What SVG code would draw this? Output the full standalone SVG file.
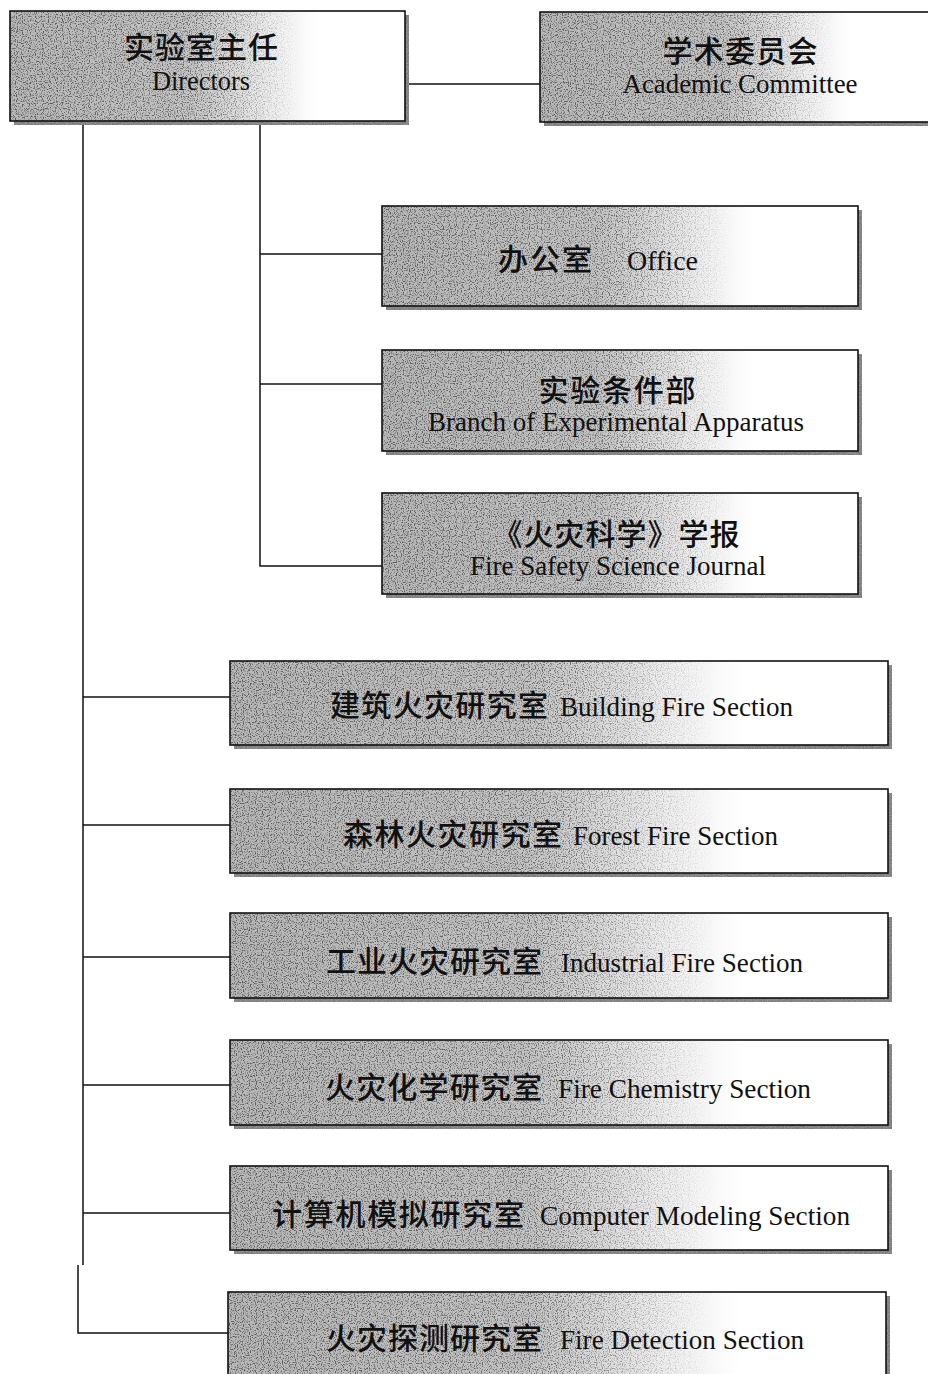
<svg xmlns="http://www.w3.org/2000/svg" width="928" height="1374" viewBox="0 0 928 1374">
<style>
.shadow{fill:#7a7a7a;}
.base{fill:url(#fillg);}
.grain{fill:url(#nmask);filter:url(#speck);}
.sgrain{fill:#fff;filter:url(#speck2);}
.frame{fill:none;stroke:#111;stroke-width:1.6;}
.cn{font-family:"Noto Sans CJK SC","Noto Sans",sans-serif;font-size:30px;font-weight:500;fill:#111;}
.en{font-family:"Liberation Serif","Times New Roman",serif;font-size:27px;fill:#111;}
.mid{text-anchor:middle;}
.conn path{fill:none;stroke:#111;stroke-width:1.5;}
</style>
<defs>
<linearGradient id="fillg" x1="0" y1="0" x2="1" y2="0">
<stop offset="0" stop-color="#b8b8b8"/>
<stop offset="0.45" stop-color="#c4c4c4"/>
<stop offset="0.66" stop-color="#ededed"/>
<stop offset="0.78" stop-color="#ffffff"/>
<stop offset="1" stop-color="#ffffff"/>
</linearGradient>
<linearGradient id="nmask" x1="0" y1="0" x2="1" y2="0">
<stop offset="0" stop-color="#fff" stop-opacity="1"/>
<stop offset="0.5" stop-color="#fff" stop-opacity="0.85"/>
<stop offset="0.74" stop-color="#fff" stop-opacity="0"/>
<stop offset="1" stop-color="#fff" stop-opacity="0"/>
</linearGradient>
<filter id="speck" x="0" y="0" width="1" height="1">
<feTurbulence type="fractalNoise" baseFrequency="0.85" numOctaves="1" seed="4" result="t"/>
<feColorMatrix in="t" type="matrix" values="0 0 0 0 0.1  0 0 0 0 0.1  0 0 0 0 0.1  5 0 0 0 -2.45" result="d"/>
<feComposite in="d" in2="SourceGraphic" operator="in"/>
</filter>
<filter id="speck2" x="0" y="0" width="1" height="1">
<feTurbulence type="fractalNoise" baseFrequency="0.9" numOctaves="1" seed="9" result="t"/>
<feColorMatrix in="t" type="matrix" values="0 0 0 0 0.3  0 0 0 0 0.3  0 0 0 0 0.3  4 0 0 0 -1.6" result="d"/>
<feComposite in="d" in2="SourceGraphic" operator="in"/>
</filter>
</defs>
<rect width="928" height="1374" fill="#ffffff"/>

<g class="conn" id="connectors">
<path d="M405 84 H540"/>
<path d="M260 121 V566 H382"/>
<path d="M260 254 H382"/>
<path d="M260 384 H382"/>
<path d="M83 121 V1265"/>
<path d="M83 697 H230"/>
<path d="M83 825 H230"/>
<path d="M83 957 H230"/>
<path d="M83 1085 H230"/>
<path d="M83 1213 H230"/>
<path d="M78 1265 V1333 H228"/>
</g>

<g id="n-directors">
<rect class="shadow" x="14" y="15" width="395" height="110"/>
<rect class="sgrain" x="14" y="15" width="395" height="110"/>
<rect class="base" x="10" y="11" width="395" height="110"/>
<rect class="grain" x="10" y="11" width="395" height="110"/>
<rect class="frame" x="10" y="11" width="395" height="110"/>
<text class="cn mid" x="201" y="58" textLength="154">实验室主任</text>
<text class="en mid" x="201" y="90" textLength="98" lengthAdjust="spacingAndGlyphs">Directors</text>
</g>

<g id="n-academic">
<rect class="shadow" x="544" y="16" width="400" height="110"/>
<rect class="sgrain" x="544" y="16" width="400" height="110"/>
<rect class="base" x="540" y="12" width="400" height="110"/>
<rect class="grain" x="540" y="12" width="400" height="110"/>
<rect class="frame" x="540" y="12" width="400" height="110"/>
<text class="cn mid" x="740" y="62" textLength="155">学术委员会</text>
<text class="en mid" x="740" y="93" textLength="235" lengthAdjust="spacingAndGlyphs">Academic Committee</text>
</g>

<g id="n-office">
<rect class="shadow" x="386" y="210" width="476" height="100"/>
<rect class="sgrain" x="386" y="210" width="476" height="100"/>
<rect class="base" x="382" y="206" width="476" height="100"/>
<rect class="grain" x="382" y="206" width="476" height="100"/>
<rect class="frame" x="382" y="206" width="476" height="100"/>
<text class="cn" x="498" y="270" textLength="94">办公室</text>
<text class="en" x="627" y="270" textLength="71" lengthAdjust="spacingAndGlyphs">Office</text>
</g>

<g id="n-apparatus">
<rect class="shadow" x="386" y="354" width="476" height="101"/>
<rect class="sgrain" x="386" y="354" width="476" height="101"/>
<rect class="base" x="382" y="350" width="476" height="101"/>
<rect class="grain" x="382" y="350" width="476" height="101"/>
<rect class="frame" x="382" y="350" width="476" height="101"/>
<text class="cn mid" x="617" y="401" textLength="157">实验条件部</text>
<text class="en mid" x="616" y="431" textLength="376" lengthAdjust="spacingAndGlyphs">Branch of Experimental Apparatus</text>
</g>

<g id="n-journal">
<rect class="shadow" x="386" y="497" width="476" height="101"/>
<rect class="sgrain" x="386" y="497" width="476" height="101"/>
<rect class="base" x="382" y="493" width="476" height="101"/>
<rect class="grain" x="382" y="493" width="476" height="101"/>
<rect class="frame" x="382" y="493" width="476" height="101"/>
<text class="cn mid" x="616" y="545" textLength="247">《火灾科学》学报</text>
<text class="en mid" x="618" y="575" textLength="296" lengthAdjust="spacingAndGlyphs">Fire Safety Science Journal</text>
</g>

<g id="n-building">
<rect class="shadow" x="234" y="665" width="658" height="84"/>
<rect class="sgrain" x="234" y="665" width="658" height="84"/>
<rect class="base" x="230" y="661" width="658" height="84"/>
<rect class="grain" x="230" y="661" width="658" height="84"/>
<rect class="frame" x="230" y="661" width="658" height="84"/>
<text class="cn" x="330" y="716" textLength="218">建筑火灾研究室</text>
<text class="en" x="560" y="716" textLength="233" lengthAdjust="spacingAndGlyphs">Building Fire Section</text>
</g>

<g id="n-forest">
<rect class="shadow" x="234" y="793" width="658" height="84"/>
<rect class="sgrain" x="234" y="793" width="658" height="84"/>
<rect class="base" x="230" y="789" width="658" height="84"/>
<rect class="grain" x="230" y="789" width="658" height="84"/>
<rect class="frame" x="230" y="789" width="658" height="84"/>
<text class="cn" x="343" y="845" textLength="219">森林火灾研究室</text>
<text class="en" x="573" y="845" textLength="205" lengthAdjust="spacingAndGlyphs">Forest Fire Section</text>
</g>

<g id="n-industrial">
<rect class="shadow" x="234" y="917" width="658" height="85"/>
<rect class="sgrain" x="234" y="917" width="658" height="85"/>
<rect class="base" x="230" y="913" width="658" height="85"/>
<rect class="grain" x="230" y="913" width="658" height="85"/>
<rect class="frame" x="230" y="913" width="658" height="85"/>
<text class="cn" x="326" y="972" textLength="216">工业火灾研究室</text>
<text class="en" x="561" y="972" textLength="242" lengthAdjust="spacingAndGlyphs">Industrial Fire Section</text>
</g>

<g id="n-chemistry">
<rect class="shadow" x="234" y="1044" width="658" height="85"/>
<rect class="sgrain" x="234" y="1044" width="658" height="85"/>
<rect class="base" x="230" y="1040" width="658" height="85"/>
<rect class="grain" x="230" y="1040" width="658" height="85"/>
<rect class="frame" x="230" y="1040" width="658" height="85"/>
<text class="cn" x="325" y="1098" textLength="217">火灾化学研究室</text>
<text class="en" x="558" y="1098" textLength="253" lengthAdjust="spacingAndGlyphs">Fire Chemistry Section</text>
</g>

<g id="n-computer">
<rect class="shadow" x="234" y="1170" width="658" height="84"/>
<rect class="sgrain" x="234" y="1170" width="658" height="84"/>
<rect class="base" x="230" y="1166" width="658" height="84"/>
<rect class="grain" x="230" y="1166" width="658" height="84"/>
<rect class="frame" x="230" y="1166" width="658" height="84"/>
<text class="cn" x="272" y="1225" textLength="252">计算机模拟研究室</text>
<text class="en" x="540" y="1225" textLength="310" lengthAdjust="spacingAndGlyphs">Computer Modeling Section</text>
</g>

<g id="n-detection">
<rect class="shadow" x="232" y="1296" width="658" height="100"/>
<rect class="sgrain" x="232" y="1296" width="658" height="100"/>
<rect class="base" x="228" y="1292" width="658" height="100"/>
<rect class="grain" x="228" y="1292" width="658" height="100"/>
<rect class="frame" x="228" y="1292" width="658" height="100"/>
<text class="cn" x="326" y="1349" textLength="216">火灾探测研究室</text>
<text class="en" x="560" y="1349" textLength="244" lengthAdjust="spacingAndGlyphs">Fire Detection Section</text>
</g>
</svg>
